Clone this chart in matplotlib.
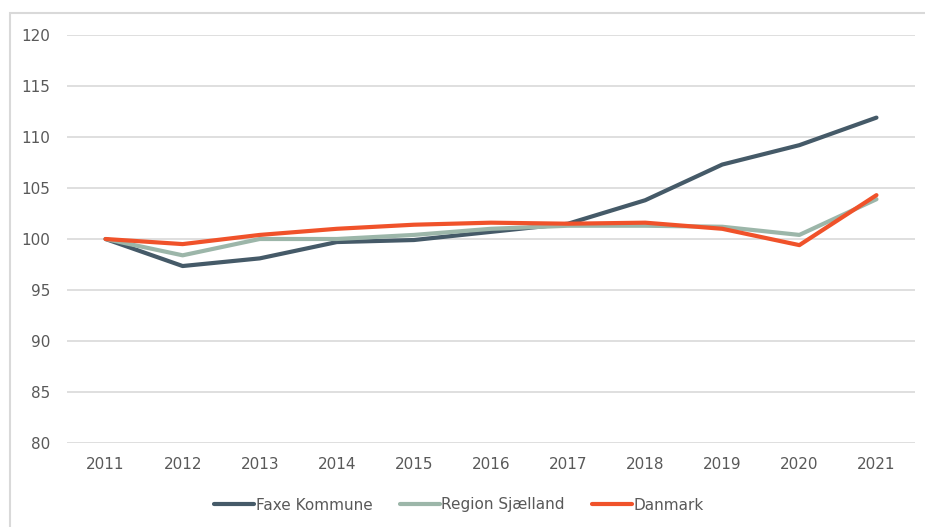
import matplotlib
matplotlib.use('Agg')

import matplotlib.pyplot as plt
from matplotlib.patches import Rectangle

years = [2011, 2012, 2013, 2014, 2015, 2016, 2017, 2018, 2019, 2020, 2021]
faxe = [100, 97.35, 98.1, 99.7, 99.9, 100.7, 101.5, 103.8, 107.3, 109.2, 111.9]
region = [100, 98.4, 100.0, 100.0, 100.4, 101.0, 101.3, 101.3, 101.2, 100.4, 103.9]
danmark = [100, 99.5, 100.4, 101.0, 101.4, 101.6, 101.5, 101.6, 101.0, 99.4, 104.3]

labels = ['Faxe Kommune', 'Region Sjælland', 'Danmark']
colors = ['#455A68', '#9CB6A9', '#F0522A']

text_col = '#595959'
grid_col = '#D9D9D9'

fig = plt.figure(figsize=(9.25, 5.27), dpi=100)

# outer chart border (cut off at right/bottom like the reference)
fig.patches.append(Rectangle((10 / 925, -0.05), 1.0, 1 - 13 / 527 + 0.05,
                             transform=fig.transFigure, fill=False,
                             edgecolor='#D9D9D9', linewidth=1.5))

ax = fig.add_axes([67 / 925, 1 - 443 / 527, (915 - 67) / 925, (443 - 35) / 527])

for series, lab, col in zip([faxe, region, danmark], labels, colors):
    ax.plot(years, series, color=col, lw=3, label=lab,
            solid_capstyle='round', solid_joinstyle='round')

ax.set_ylim(80, 120)
ax.set_xlim(2010.5, 2021.5)
ax.set_yticks(range(80, 121, 5))
ax.set_xticks(years)
ax.grid(axis='y', color=grid_col, lw=1.2)
ax.set_axisbelow(True)
for s in ax.spines.values():
    s.set_visible(False)
ax.tick_params(length=0, labelsize=11, colors=text_col, pad=10)
ax.tick_params(axis='y', pad=12)

leg = fig.legend(loc='center', bbox_to_anchor=(459 / 925, 1 - 505 / 527), ncol=3,
                 frameon=False, fontsize=11, handlelength=2.6, handletextpad=0.1,
                 columnspacing=1.8)
for t in leg.get_texts():
    t.set_color(text_col)

fig.savefig('out.png', dpi=100)
